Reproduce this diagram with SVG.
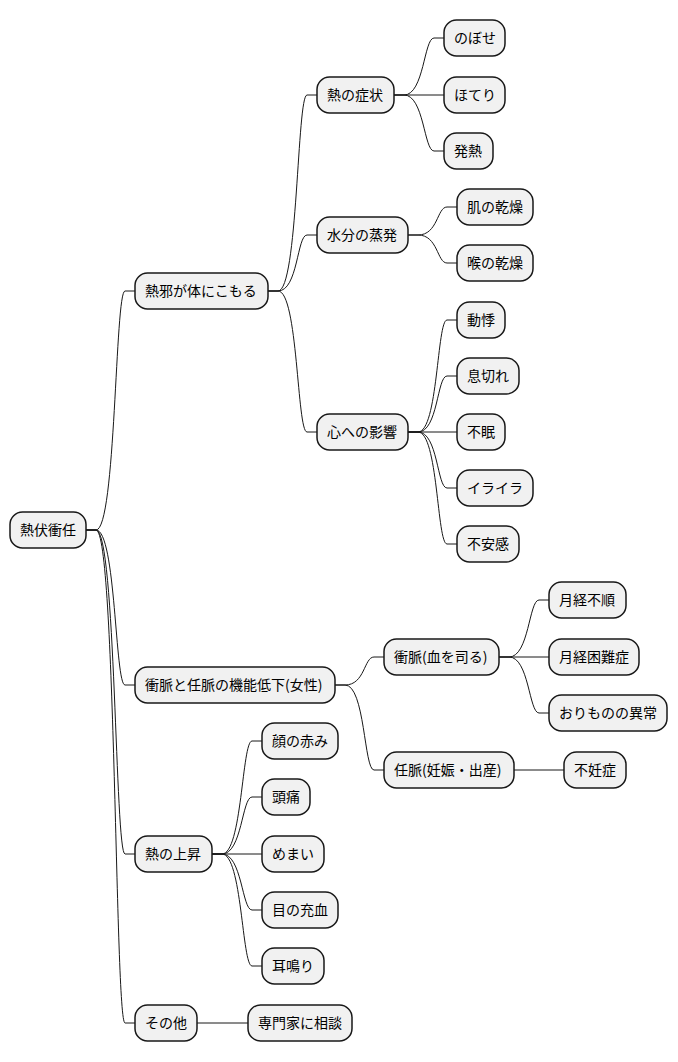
<svg xmlns="http://www.w3.org/2000/svg" width="678" height="1062" viewBox="0 0 678 1062">
<style>
.n rect{fill:#F1F1F1;stroke:#181818;stroke-width:1.5}
.n text{font-family:"Noto Sans CJK JP","Noto Sans",sans-serif;font-size:14px;fill:#000000}
.c path{fill:none;stroke:#181818;stroke-width:1}
</style>
<rect width="678" height="1062" fill="#FFFFFF"/>
<g class="c" id="connectors">
<path d="M86,530 L96,530 C116,530 115,291 125,291 L135,291"/>
<path d="M86,530 L96,530 C116,530 115,685 125,685 L135,685"/>
<path d="M86,530 L96,530 C116,530 115,854 125,854 L135,854"/>
<path d="M86,530 L96,530 C116,530 115,1023 125,1023 L135,1023"/>
<path d="M268,291 L278,291 C298,291 297,95 307,95 L317,95"/>
<path d="M268,291 L278,291 C298,291 297,235 307,235 L317,235"/>
<path d="M268,291 L278,291 C298,291 297,432 307,432 L317,432"/>
<path d="M394,95 L404,95 C424,95 424,38 434,38 L444,38"/>
<path d="M394,95 L444,95"/>
<path d="M394,95 L404,95 C424,95 424,151 434,151 L444,151"/>
<path d="M408,235 L418,235 C438,235 437,207 447,207 L457,207"/>
<path d="M408,235 L418,235 C438,235 437,263 447,263 L457,263"/>
<path d="M408,432 L418,432 C438,432 437,320 447,320 L457,320"/>
<path d="M408,432 L418,432 C438,432 437,376 447,376 L457,376"/>
<path d="M408,432 L457,432"/>
<path d="M408,432 L418,432 C438,432 437,488 447,488 L457,488"/>
<path d="M408,432 L418,432 C438,432 437,544 447,544 L457,544"/>
<path d="M335,685 L345,685 C365,685 364,657 374,657 L384,657"/>
<path d="M335,685 L345,685 C365,685 364,770 374,770 L384,770"/>
<path d="M499,657 L509,657 C529,657 529,600 539,600 L549,600"/>
<path d="M499,657 L549,657"/>
<path d="M499,657 L509,657 C529,657 529,713 539,713 L549,713"/>
<path d="M514,770 L564,770"/>
<path d="M212,854 L222,854 C242,854 242,741 252,741 L262,741"/>
<path d="M212,854 L222,854 C242,854 242,797 252,797 L262,797"/>
<path d="M212,854 L262,854"/>
<path d="M212,854 L222,854 C242,854 242,910 252,910 L262,910"/>
<path d="M212,854 L222,854 C242,854 242,966 252,966 L262,966"/>
<path d="M197,1023 L248,1023"/>
</g>
<g class="n" id="root"><rect x="10" y="512" width="76" height="36" rx="12.5"/><text x="20" y="535">熱伏衝任</text></g>
<g class="n" id="n1"><rect x="135" y="273" width="133" height="36" rx="12.5"/><text x="145" y="296">熱邪が体にこもる</text></g>
<g class="n" id="n1a"><rect x="317" y="77" width="77" height="36" rx="12.5"/><text x="327" y="100">熱の症状</text></g>
<g class="n" id="n1a1"><rect x="444" y="20" width="61" height="36" rx="12.5"/><text x="454" y="43">のぼせ</text></g>
<g class="n" id="n1a2"><rect x="444" y="77" width="61" height="36" rx="12.5"/><text x="454" y="100">ほてり</text></g>
<g class="n" id="n1a3"><rect x="444" y="133" width="49" height="36" rx="12.5"/><text x="454" y="156">発熱</text></g>
<g class="n" id="n1b"><rect x="317" y="217" width="91" height="36" rx="12.5"/><text x="327" y="240">水分の蒸発</text></g>
<g class="n" id="n1b1"><rect x="457" y="189" width="76" height="36" rx="12.5"/><text x="467" y="212">肌の乾燥</text></g>
<g class="n" id="n1b2"><rect x="457" y="245" width="76" height="36" rx="12.5"/><text x="467" y="268">喉の乾燥</text></g>
<g class="n" id="n1c"><rect x="317" y="414" width="91" height="36" rx="12.5"/><text x="327" y="437">心への影響</text></g>
<g class="n" id="n1c1"><rect x="457" y="302" width="48" height="36" rx="12.5"/><text x="467" y="325">動悸</text></g>
<g class="n" id="n1c2"><rect x="457" y="358" width="62" height="36" rx="12.5"/><text x="467" y="381">息切れ</text></g>
<g class="n" id="n1c3"><rect x="457" y="414" width="48" height="36" rx="12.5"/><text x="467" y="437">不眠</text></g>
<g class="n" id="n1c4"><rect x="457" y="470" width="76" height="36" rx="12.5"/><text x="467" y="493">イライラ</text></g>
<g class="n" id="n1c5"><rect x="457" y="526" width="62" height="36" rx="12.5"/><text x="467" y="549">不安感</text></g>
<g class="n" id="n2"><rect x="135" y="667" width="200" height="36" rx="12.5"/><text x="145" y="690">衝脈と任脈の機能低下(女性)</text></g>
<g class="n" id="n2a"><rect x="384" y="639" width="115" height="36" rx="12.5"/><text x="394" y="662">衝脈(血を司る)</text></g>
<g class="n" id="n2a1"><rect x="549" y="582" width="77" height="36" rx="12.5"/><text x="559" y="605">月経不順</text></g>
<g class="n" id="n2a2"><rect x="549" y="639" width="90" height="36" rx="12.5"/><text x="559" y="662">月経困難症</text></g>
<g class="n" id="n2a3"><rect x="549" y="695" width="118" height="36" rx="12.5"/><text x="559" y="718">おりものの異常</text></g>
<g class="n" id="n2b"><rect x="384" y="752" width="130" height="36" rx="12.5"/><text x="394" y="775">任脈(妊娠・出産)</text></g>
<g class="n" id="n2b1"><rect x="564" y="752" width="62" height="36" rx="12.5"/><text x="574" y="775">不妊症</text></g>
<g class="n" id="n3"><rect x="135" y="836" width="77" height="36" rx="12.5"/><text x="145" y="859">熱の上昇</text></g>
<g class="n" id="n3a"><rect x="262" y="723" width="76" height="36" rx="12.5"/><text x="272" y="746">顔の赤み</text></g>
<g class="n" id="n3b"><rect x="262" y="779" width="48" height="36" rx="12.5"/><text x="272" y="802">頭痛</text></g>
<g class="n" id="n3c"><rect x="262" y="836" width="62" height="36" rx="12.5"/><text x="272" y="859">めまい</text></g>
<g class="n" id="n3d"><rect x="262" y="892" width="76" height="36" rx="12.5"/><text x="272" y="915">目の充血</text></g>
<g class="n" id="n3e"><rect x="262" y="948" width="62" height="36" rx="12.5"/><text x="272" y="971">耳鳴り</text></g>
<g class="n" id="n4"><rect x="135" y="1005" width="62" height="36" rx="12.5"/><text x="145" y="1028">その他</text></g>
<g class="n" id="n4a"><rect x="248" y="1005" width="104" height="36" rx="12.5"/><text x="258" y="1033" dy="-5">専門家に相談</text></g>
</svg>
